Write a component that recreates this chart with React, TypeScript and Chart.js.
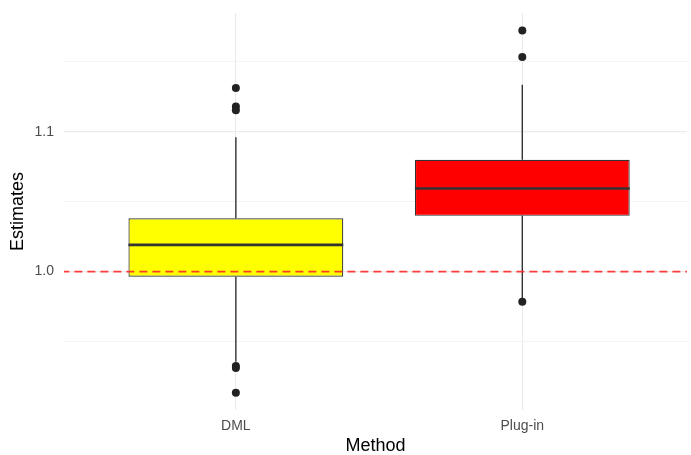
import React, { useEffect, useRef } from "react";
import { Chart, registerables } from "chart.js";

Chart.register(...registerables);

const categories = ["DML", "Plug-in"];
const boxColors = ["#ffff00", "#ff0000"];
const q1 = [0.9964, 1.0399];
const medians = [1.0191, 1.0594];
const q3 = [1.0382, 1.08];
const whiskerLow = [0.9356, 0.9805];
const whiskerHigh = [1.0962, 1.1336];
const outliers = [
  [1.1313, 1.1181, 1.1155, 0.9325, 0.931, 0.9134],
  [1.1725, 1.1535, 0.9785],
];
const yTicks = [0.95, 1.0, 1.05, 1.1, 1.15];
const yLabelled = [1.0, 1.1];
const refLine = 1.0;

const BOX_W = 0.75;
const FONT = "'Liberation Sans', Arial, Helvetica, sans-serif";

export default function App() {
  const ref = useRef<HTMLCanvasElement | null>(null);
  useEffect(() => {
    if (!ref.current) return;
    const xs = categories.map((_, i) => i + 1);
    const datasets: any[] = [];
    datasets.push({
      type: "bar",
      data: xs.map((x, i) => ({ x, y: [q1[i], q3[i]] })),
      backgroundColor: boxColors,
      borderColor: "#333333",
      borderWidth: 1.2,
      borderSkipped: false,
      categoryPercentage: 1,
      barPercentage: BOX_W,
      order: 6,
    });
    xs.forEach((x, i) => {
      datasets.push({
        type: "line",
        data: [
          { x, y: whiskerHigh[i] },
          { x, y: q3[i] },
        ],
        borderColor: "#333333",
        borderWidth: 1.4,
        pointRadius: 0,
        order: 7,
      });
      datasets.push({
        type: "line",
        data: [
          { x, y: q1[i] },
          { x, y: whiskerLow[i] },
        ],
        borderColor: "#333333",
        borderWidth: 1.4,
        pointRadius: 0,
        order: 7,
      });
      datasets.push({
        type: "line",
        data: [
          { x: x - BOX_W / 2, y: medians[i] },
          { x: x + BOX_W / 2, y: medians[i] },
        ],
        borderColor: "#333333",
        borderWidth: 2.6,
        pointRadius: 0,
        order: 4,
      });
      datasets.push({
        type: "scatter",
        data: outliers[i].map((y) => ({ x, y })),
        backgroundColor: "#222222",
        borderColor: "#222222",
        pointRadius: 4,
        borderWidth: 0,
        order: 3,
      });
    });
    datasets.push({
      type: "line",
      data: [
        { x: 0.3, y: refLine },
        { x: 2.7, y: refLine },
      ],
      borderColor: "rgba(255,40,40,0.9)",
      borderWidth: 1.6,
      borderDash: [8, 5],
      pointRadius: 0,
      order: 1,
    });

    const chart = new Chart(ref.current, {
      type: "scatter",
      data: { datasets },
      options: {
        animation: false,
        responsive: false,
        maintainAspectRatio: false,
        layout: { padding: { top: 13, right: 0, left: 0, bottom: 0 } },
        plugins: { legend: { display: false }, tooltip: { enabled: false } },
        scales: {
          x: {
            type: "linear",
            min: 0.4,
            max: 2.575,
            offset: false,
            border: { display: false },
            grid: { color: "#ebebeb", lineWidth: 1.1, drawTicks: false, offset: false },
            afterBuildTicks: (s: any) => {
              s.ticks = xs.map((v) => ({ value: v }));
            },
            afterFit: (s: any) => {
              s.height = 45;
              s.paddingLeft = 0;
              s.paddingRight = 0;
            },
            ticks: {
              color: "#4d4d4d",
              font: { family: FONT, size: 14 },
              padding: 8,
              autoSkip: false,
              maxRotation: 0,
              callback: (v: any) => categories[Math.round(v) - 1] ?? "",
            },
            title: {
              display: true,
              text: "Method",
              color: "#000000",
              font: { family: FONT, size: 18 },
              padding: { top: 0, bottom: -2 },
            },
          },
          y: {
            type: "linear",
            min: 0.901,
            max: 1.185,
            border: { display: false },
            grid: {
              drawTicks: false,
              color: (c: any) =>
                yLabelled.some((v) => Math.abs(v - c.tick.value) < 1e-6) ? "#ebebeb" : "#f3f3f3",
              lineWidth: (c: any) =>
                yLabelled.some((v) => Math.abs(v - c.tick.value) < 1e-6) ? 1.2 : 0.9,
            },
            afterBuildTicks: (s: any) => {
              s.ticks = yTicks.map((v) => ({ value: v }));
            },
            afterFit: (s: any) => {
              s.width = 64;
              s.paddingTop = 0;
              s.paddingBottom = 0;
            },
            ticks: {
              color: "#4d4d4d",
              font: { family: FONT, size: 14 },
              padding: 10,
              callback: (v: any) =>
                yLabelled.some((t) => Math.abs(t - v) < 1e-6) ? Number(v).toFixed(1) : "",
            },
            title: {
              display: true,
              text: "Estimates",
              color: "#000000",
              font: { family: FONT, size: 18 },
              padding: { top: 7, bottom: 0 },
            },
          },
        },
      },
    });
    return () => chart.destroy();
  }, []);
  return (
    <div style={{ position: "fixed", left: 0, top: 0, width: 691, height: 455, background: "#fff" }}>
      <canvas ref={ref} width={691} height={455} style={{ width: 691, height: 455 }} />
    </div>
  );
}
